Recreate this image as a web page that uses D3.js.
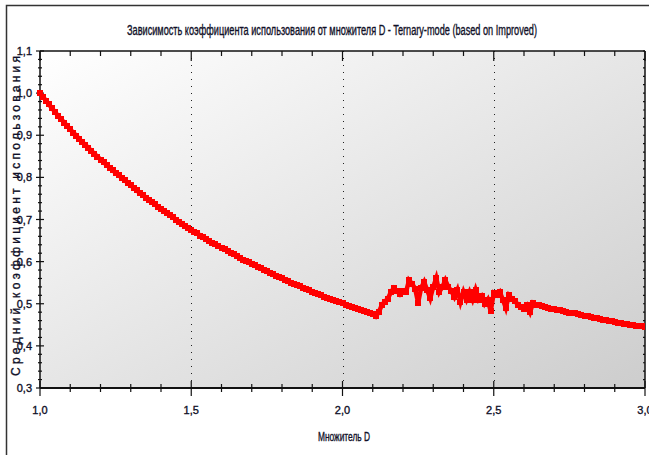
<!DOCTYPE html>
<html>
<head>
<meta charset="utf-8">
<script src="https://d3js.org/d3.v7.min.js"></script>
<style>
  body { margin: 0; background: #fff; overflow: hidden; }
  text { font-family: "Liberation Sans Narrow", "Liberation Sans", Arial, sans-serif; fill: #101028; }
  .heavy { stroke: #101028; stroke-width: 0.35; }
</style>
</head>
<body>
<div id="chart"></div>
<script>
// chart values
const title = "Зависимость коэффициента использования от множителя D - Ternary-mode (based on Improved)";
const xTitle = "Множитель D";
const yTitle = "Средний  коэффициент  использования";
const xTicks = [1.0, 1.5, 2.0, 2.5, 3.0];
const yTicks = [0.3, 0.4, 0.5, 0.6, 0.7, 0.8, 0.9, 1.0, 1.1];
const gridLines = [1.5, 2.0, 2.5];
const dStart = 1.0, dStep = 0.01;   // multiplier D, one point every 0.01
const usage = [
  1.000, 0.991, 0.982, 0.973, 0.964, 0.955, 0.946, 0.938, 0.930, 0.922,
  0.914, 0.906, 0.899, 0.891, 0.884, 0.877, 0.870, 0.863, 0.856, 0.849,
  0.842, 0.836, 0.830, 0.823, 0.817, 0.811, 0.805, 0.799, 0.793, 0.787,
  0.781, 0.775, 0.769, 0.763, 0.758, 0.752, 0.747, 0.741, 0.736, 0.730,
  0.725, 0.720, 0.715, 0.710, 0.705, 0.700, 0.695, 0.690, 0.685, 0.680,
  0.676, 0.671, 0.667, 0.662, 0.658, 0.653, 0.649, 0.645, 0.641, 0.637,
  0.633, 0.629, 0.625, 0.621, 0.617, 0.613, 0.609, 0.605, 0.602, 0.598,
  0.594, 0.591, 0.587, 0.584, 0.580, 0.577, 0.573, 0.570, 0.567, 0.563,
  0.560, 0.557, 0.554, 0.550, 0.547, 0.544, 0.541, 0.538, 0.535, 0.532,
  0.529, 0.526, 0.523, 0.520, 0.517, 0.514, 0.511, 0.509, 0.506, 0.503,
  0.501, 0.498, 0.495, 0.493, 0.490, 0.488, 0.485, 0.483, 0.481, 0.478,
  0.476, 0.470, 0.480, 0.497, 0.505, 0.512, 0.528, 0.537, 0.530, 0.522,
  0.530, 0.528, 0.556, 0.548, 0.536, 0.502, 0.538, 0.552, 0.532, 0.513,
  0.540, 0.561, 0.528, 0.540, 0.556, 0.540, 0.530, 0.516, 0.533, 0.504,
  0.528, 0.510, 0.528, 0.510, 0.533, 0.510, 0.518, 0.500, 0.510, 0.482,
  0.525, 0.520, 0.528, 0.510, 0.490, 0.520, 0.512, 0.506, 0.498, 0.493,
  0.488, 0.496, 0.480, 0.502, 0.498, 0.497, 0.495, 0.492, 0.490, 0.488,
  0.487, 0.485, 0.484, 0.482, 0.480, 0.479, 0.478, 0.477, 0.475, 0.473,
  0.471, 0.470, 0.468, 0.467, 0.465, 0.464, 0.462, 0.461, 0.460, 0.458,
  0.457, 0.455, 0.454, 0.453, 0.452, 0.450, 0.449, 0.448, 0.447, 0.446,
  0.445
];

const width = 649, height = 455;
const plot = { left: 40, right: 645, top: 51, bottom: 388 };

const svg = d3.select("#chart").append("svg")
  .attr("width", width).attr("height", height);

const x = d3.scaleLinear().domain([1, 3]).range([plot.left, plot.right]);
const y = d3.scaleLinear().domain([0.3, 1.1]).range([plot.bottom, plot.top]);

// background gradient of the plot area
const defs = svg.append("defs");
const grad = defs.append("linearGradient").attr("id", "bg")
  .attr("x1", "0%").attr("y1", "0%").attr("x2", "100%").attr("y2", "100%");
grad.append("stop").attr("offset", "0%").attr("stop-color", "#ffffff");
grad.append("stop").attr("offset", "100%").attr("stop-color", "#cdcdcd");

// outer frame (left and top edges only are visible)
svg.append("path")
  .attr("d", `M6.5,${height}V5.5H${width}`)
  .attr("fill", "none").attr("stroke", "#333").attr("stroke-width", 1.5);

svg.append("rect")
  .attr("x", plot.left).attr("y", plot.top)
  .attr("width", plot.right - plot.left).attr("height", plot.bottom - plot.top)
  .attr("fill", "url(#bg)");

// dotted vertical grid
svg.append("g").selectAll("line").data(gridLines).join("line")
  .attr("x1", d => Math.round(x(d)) + 0.5).attr("x2", d => Math.round(x(d)) + 0.5)
  .attr("y1", plot.top).attr("y2", plot.bottom)
  .attr("stroke", "#222").attr("stroke-width", 1)
  .attr("stroke-dasharray", "1,6");

// axes
const fmt = d => d3.format(".1f")(d).replace(".", ",");
const xTickVals = d3.range(0, 21).map(i => 1 + i * 0.1);
const yMinorVals = d3.range(0, 41).map(i => 0.3 + i * 0.02);

const axisG = svg.append("g").attr("stroke", "#111");
// bottom
axisG.append("line").attr("x1", plot.left).attr("x2", plot.right)
  .attr("y1", plot.bottom).attr("y2", plot.bottom).attr("stroke-width", 2);
axisG.selectAll(".xb").data(xTickVals).join("line").attr("class", "xb")
  .attr("x1", d => x(d)).attr("x2", d => x(d))
  .attr("y1", (d, i) => plot.bottom - (i % 5 === 0 ? 7 : 4))
  .attr("y2", (d, i) => plot.bottom + (i % 5 === 0 ? 8 : 4))
  .attr("stroke-width", 1.2);
// top
axisG.append("line").attr("x1", plot.left).attr("x2", plot.right)
  .attr("y1", plot.top).attr("y2", plot.top).attr("stroke-width", 1.5);
axisG.selectAll(".xt").data(xTickVals).join("line").attr("class", "xt")
  .attr("x1", d => x(d)).attr("x2", d => x(d))
  .attr("y1", plot.top).attr("y2", (d, i) => plot.top + (i % 5 === 0 ? 10 : 5))
  .attr("stroke-width", 1.2);
// left
axisG.append("line").attr("x1", plot.left).attr("x2", plot.left)
  .attr("y1", plot.top).attr("y2", plot.bottom).attr("stroke-width", 1.5);
axisG.selectAll(".yl").data(yMinorVals).join("line").attr("class", "yl")
  .attr("x1", (d, i) => plot.left - (i % 5 === 0 ? 4 : 2))
  .attr("x2", (d, i) => plot.left + (i % 5 === 0 ? 4 : 2))
  .attr("y1", d => y(d)).attr("y2", d => y(d)).attr("stroke-width", 1.2);
// right
axisG.append("line").attr("x1", plot.right).attr("x2", plot.right)
  .attr("y1", plot.top).attr("y2", plot.bottom).attr("stroke-width", 1.5);
axisG.selectAll(".yr").data(yMinorVals).join("line").attr("class", "yr")
  .attr("x1", plot.right - 2).attr("x2", plot.right)
  .attr("y1", d => y(d)).attr("y2", d => y(d)).attr("stroke-width", 1.2);

// tick labels ("3,0" is cut by the right edge, as in the original)
svg.append("g").selectAll("text").data(xTicks).join("text")
  .attr("class", "heavy")
  .attr("x", d => x(d)).attr("y", 414)
  .attr("text-anchor", "middle").attr("font-size", 11)
  .text(fmt);
svg.append("g").selectAll("text").data(yTicks).join("text")
  .attr("class", "heavy")
  .attr("x", 32).attr("y", d => y(d) + 4)
  .attr("text-anchor", "end").attr("font-size", 11)
  .text(fmt);

// titles
svg.append("text").attr("class", "heavy").attr("x", 332).attr("y", 35)
  .attr("text-anchor", "middle").attr("font-size", 14)
  .attr("textLength", 410).attr("lengthAdjust", "spacingAndGlyphs")
  .text(title);
svg.append("text").attr("class", "heavy").attr("x", 344).attr("y", 441)
  .attr("text-anchor", "middle").attr("font-size", 12)
  .attr("textLength", 52).attr("lengthAdjust", "spacingAndGlyphs")
  .text(xTitle);
svg.append("text").attr("class", "heavy")
  .attr("transform", "translate(20,216) rotate(-90)")
  .attr("text-anchor", "middle").attr("font-size", 12)
  .style("font-family", "'Liberation Sans', Arial, sans-serif")
  .attr("textLength", 320).attr("lengthAdjust", "spacing")
  .text(yTitle);

// data series
const pts = usage.map((v, i) => ({ d: dStart + i * dStep, v }));
const clip = defs.append("clipPath").attr("id", "clip");
clip.append("rect").attr("x", plot.left - 3).attr("y", plot.top)
  .attr("width", plot.right - plot.left + 3).attr("height", plot.bottom - plot.top);

const series = svg.append("g").attr("clip-path", "url(#clip)");
series.append("path").datum(pts)
  .attr("d", d3.line().x(p => x(p.d)).y(p => y(p.v)))
  .attr("fill", "none").attr("stroke", "#ff0000").attr("stroke-width", 4.5);
series.selectAll("rect").data(pts).join("rect")
  .attr("x", p => x(p.d) - 3).attr("y", p => y(p.v) - 3)
  .attr("width", 6).attr("height", 6)
  .attr("fill", "#ff0000").attr("shape-rendering", "crispEdges");
</script>
</body>
</html>
